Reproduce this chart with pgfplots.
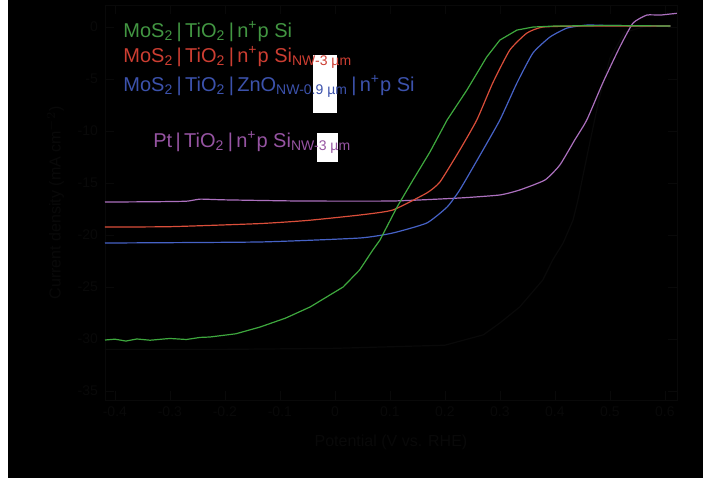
\documentclass[border=0pt]{standalone}
\usepackage{pgfplots}
\pgfplotsset{compat=1.18}
\usepackage{fontspec}
\setmainfont{Liberation Sans}

\definecolor{cgreen}{RGB}{62,168,62}
\definecolor{cred}{RGB}{218,78,58}
\definecolor{cblue}{RGB}{70,98,198}
\definecolor{cpurple}{RGB}{172,112,190}
\definecolor{tgreen}{RGB}{66,150,66}
\definecolor{tred}{RGB}{205,62,50}
\definecolor{tblue}{RGB}{60,82,172}
\definecolor{tpurple}{RGB}{150,84,162}
\definecolor{faint}{RGB}{9,9,9}

\begin{document}
\begin{tikzpicture}
% page = 703x478 px, 1 px = 0.5pt
\useasboundingbox (0,0) rectangle (351.5pt,-239pt);
\fill[white] (0,0) rectangle (4pt,-239pt);
\fill[black] (4pt,0) rectangle (351.5pt,-239pt);

\begin{axis}[
    at={(52.5pt,-200pt)}, anchor=south west,
    scale only axis,
    width=286pt, height=197.5pt,
    xmin=-0.418, xmax=0.622,
    ymin=-35.87, ymax=2.12,
    xtick={-0.4,-0.3,-0.2,-0.1,0,0.1,0.2,0.3,0.4,0.5,0.6},
    ytick={-35,-30,-25,-20,-15,-10,-5,0},
    xlabel={Potential (V vs. RHE)},
    ylabel={Current density (mA cm$^{-2}$)},
    /pgf/number format/assume math mode=true,
    /pgf/number format/fixed,
    tick label style={color=faint, font=\fontsize{7}{8}\selectfont},
    label style={color=faint, font=\fontsize{8}{9}\selectfont},
    axis line style={faint},
    major tick style={faint},
    xlabel style={yshift=-2pt},
]

% dark curve
\addplot[faint, line width=0.6pt] coordinates {
(-0.418,-31.0) (-0.2,-31.0) (0.0,-30.9) (0.2,-30.6) (0.27,-29.6)
(0.300,-28.46) (0.336,-26.92) (0.378,-24.33) (0.396,-22.40)
(0.415,-20.77) (0.433,-18.56) (0.442,-16.63) (0.46,-12.0)
(0.48,-7.0) (0.50,-3.0) (0.527,-0.5) (0.56,0.0) (0.60,0.1)
};

% Pt | TiO2 | n+p Si NW
\addplot[cpurple, line width=0.6pt, smooth, tension=0.3] coordinates {
(-0.418,-16.83) (-0.33,-16.80) (-0.27,-16.75) (-0.245,-16.55)
(-0.2,-16.62) (-0.064,-16.73) (0.105,-16.73) (0.227,-16.44)
(0.30,-16.15) (0.336,-15.67) (0.382,-14.71) (0.409,-13.27)
(0.436,-10.87) (0.458,-8.94) (0.487,-5.38) (0.518,-1.92)
(0.542,0.38) (0.567,1.15) (0.591,1.15) (0.609,1.25) (0.627,1.35)
};

% MoS2 | TiO2 | ZnO NW | n+p Si
\addplot[cblue, line width=0.6pt, smooth, tension=0.3] coordinates {
(-0.418,-20.77) (-0.136,-20.67) (0.045,-20.29) (0.105,-19.81)
(0.167,-18.85) (0.204,-17.31) (0.227,-15.67) (0.264,-12.31)
(0.300,-8.94) (0.331,-5.38) (0.360,-2.50) (0.391,-0.96)
(0.422,-0.10) (0.458,0.19) (0.50,0.15) (0.61,0.1)
};

% MoS2 | TiO2 | n+p Si NW
\addplot[cred, line width=0.6pt, smooth, tension=0.3] coordinates {
(-0.418,-19.23) (-0.3,-19.20) (-0.136,-18.90) (-0.05,-18.60)
(0.045,-18.08) (0.105,-17.60) (0.167,-15.96) (0.191,-14.90)
(0.227,-11.83) (0.258,-8.94) (0.287,-5.38) (0.318,-2.21)
(0.349,-0.58) (0.378,0.0) (0.45,0.1) (0.61,0.1)
};

% MoS2 | TiO2 | n+p Si
\addplot[cgreen, line width=0.6pt] coordinates {
(-0.418,-30.10) (-0.40,-30.02) (-0.38,-30.20) (-0.36,-30.00)
(-0.336,-30.12) (-0.30,-29.95) (-0.27,-30.05) (-0.245,-29.85)
(-0.227,-29.81) (-0.18,-29.50) (-0.136,-28.85) (-0.09,-28.0)
(-0.045,-26.92) (0.015,-25.00) (0.045,-23.36) (0.069,-21.44)
(0.082,-20.48) (0.113,-17.31) (0.142,-14.71) (0.173,-12.0)
(0.204,-8.94) (0.240,-6.06) (0.276,-2.88) (0.300,-1.25)
(0.331,-0.29) (0.360,0.0) (0.40,0.1) (0.50,0.15) (0.61,0.1)
};
\end{axis}

% white patches behind subscripts
\fill[white] (156.5pt,-27.5pt) rectangle (168.5pt,-56.5pt);
\fill[white] (158.5pt,-66.5pt) rectangle (169pt,-81pt);

\begin{scope}[every node/.style={anchor=base west, inner sep=0pt,
    font=\fontsize{10}{12}\selectfont}]
\node[text=tgreen] at (61.5pt,-18.5pt)
  {MoS\textsubscript{2}\,|\,TiO\textsubscript{2}\,|\,n\textsuperscript{+}p Si};
\node[text=tred] at (61.5pt,-31pt)
  {MoS\textsubscript{2}\,|\,TiO\textsubscript{2}\,|\,n\textsuperscript{+}p Si\textsubscript{NW-3 µm}};
\node[text=tblue] at (61.5pt,-45.5pt)
  {MoS\textsubscript{2}\,|\,TiO\textsubscript{2}\,|\,ZnO\textsubscript{NW-0.9 µm}\,|\,n\textsuperscript{+}p Si};
\node[text=tpurple] at (76.5pt,-73.5pt)
  {Pt\,|\,TiO\textsubscript{2}\,|\,n\textsuperscript{+}p Si\textsubscript{NW-3 µm}};
\end{scope}
\end{tikzpicture}
\end{document}
